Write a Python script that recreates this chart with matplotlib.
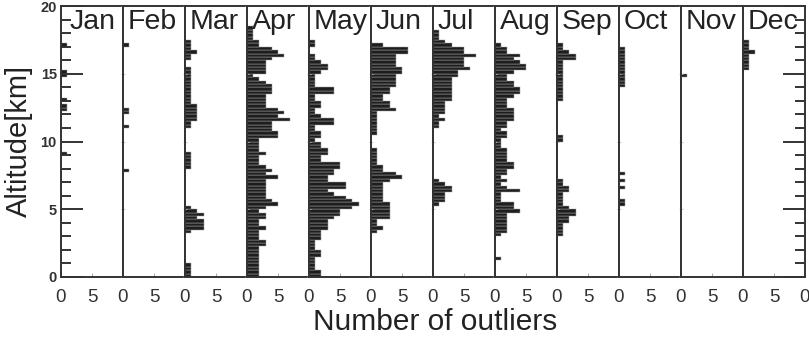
import matplotlib
matplotlib.use("Agg")
import matplotlib.pyplot as plt
import numpy as np

plt.rcParams['font.family'] = ['Liberation Sans', 'DejaVu Sans']

# altitude bins of 0.25 km, from 0 km upward (74 bins -> 0 .. 18.5 km)
bin_width = 0.25
months = ["Jan", "Feb", "Mar", "Apr", "May", "Jun",
          "Jul", "Aug", "Sep", "Oct", "Nov", "Dec"]

jan = [0, 0, 0, 0, 0, 0, 0, 0, 0, 0, 0, 0, 0, 0, 0, 0, 0, 0, 0, 0,
       0, 0, 0, 0, 0, 0, 0, 0, 0, 0, 0, 0, 0, 0, 0, 0, 1, 0, 0, 0,
       0, 0, 0, 0, 0, 0, 0, 0, 0, 1, 1, 0, 1, 0, 0, 0, 0, 0, 0, 1,
       1, 0, 0, 0, 0, 0, 0, 0, 1, 0, 0, 0, 0, 0]
feb = [0, 0, 0, 0, 0, 0, 0, 0, 0, 0, 0, 0, 0, 0, 0, 0, 0, 0, 0, 0,
       0, 0, 0, 0, 0, 0, 0, 0, 0, 0, 0, 1, 0, 0, 0, 0, 0, 0, 0, 0,
       0, 0, 0, 0, 1, 0, 0, 0, 1, 1, 0, 0, 0, 0, 0, 0, 0, 0, 0, 0,
       0, 0, 0, 0, 0, 0, 0, 0, 1, 0, 0, 0, 0, 0]
mar = [1, 1, 1, 1, 0, 0, 0, 0, 0, 0, 0, 0, 0, 1, 3, 3, 3, 2, 3, 2,
       1, 0, 0, 0, 0, 0, 0, 0, 0, 0, 0, 0, 1, 1, 1, 1, 1, 0, 0, 0,
       0, 0, 0, 0, 1, 1, 2, 2, 2, 2, 2, 1, 1, 1, 1, 1, 1, 1, 1, 1,
       1, 1, 0, 0, 1, 1, 2, 1, 1, 1, 0, 0, 0, 0]
apr = [2, 2, 2, 2, 2, 2, 2, 2, 2, 3, 3, 2, 2, 2, 3, 2, 2, 3, 3, 2,
       3, 5, 4, 3, 3, 3, 3, 3, 3, 5, 3, 4, 3, 2, 2, 2, 3, 2, 2, 2,
       2, 5, 5, 4, 4, 4, 7, 5, 6, 5, 3, 3, 3, 3, 4, 4, 4, 3, 2, 1,
       3, 3, 3, 3, 4, 6, 5, 4, 2, 2, 1, 1, 1, 1]
may = [2, 2, 1, 1, 1, 1, 2, 2, 1, 1, 1, 2, 2, 2, 3, 3, 3, 4, 5, 5,
       7, 8, 7, 6, 4, 3, 6, 6, 3, 3, 4, 4, 5, 5, 2, 2, 3, 3, 2, 2,
       1, 2, 2, 1, 1, 4, 4, 2, 1, 1, 2, 2, 1, 1, 4, 4, 1, 1, 1, 1,
       2, 3, 3, 2, 1, 1, 0, 0, 1, 1, 0, 0, 0, 0]
jun = [0, 0, 0, 0, 0, 0, 0, 0, 0, 0, 0, 0, 0, 1, 2, 1, 1, 3, 3, 3,
       3, 3, 2, 2, 2, 2, 2, 2, 3, 5, 4, 2, 2, 1, 1, 1, 1, 1, 0, 0,
       0, 0, 1, 1, 1, 1, 1, 1, 1, 4, 3, 3, 2, 2, 3, 3, 4, 4, 4, 4,
       5, 5, 4, 4, 4, 4, 6, 6, 2, 0, 0, 0, 0, 0]
jul = [0, 0, 0, 0, 0, 0, 0, 0, 0, 0, 0, 0, 0, 0, 0, 0, 0, 0, 0, 0,
       0, 1, 2, 2, 2, 3, 3, 2, 1, 0, 0, 0, 0, 0, 0, 0, 0, 0, 0, 0,
       0, 0, 0, 0, 1, 1, 2, 1, 2, 2, 2, 2, 3, 3, 3, 3, 3, 3, 3, 4,
       4, 6, 5, 5, 5, 7, 5, 5, 3, 2, 1, 1, 1, 0]
aug = [0, 0, 0, 0, 0, 1, 0, 0, 0, 0, 0, 0, 1, 2, 2, 2, 2, 2, 2, 4,
       3, 3, 1, 1, 1, 4, 2, 1, 2, 1, 2, 2, 3, 3, 2, 2, 2, 2, 1, 1,
       1, 2, 2, 1, 2, 2, 3, 3, 3, 3, 2, 2, 2, 3, 4, 4, 3, 3, 2, 2,
       3, 5, 5, 4, 3, 4, 2, 2, 1, 0, 0, 0, 0, 0]
sep = [0, 0, 0, 0, 0, 0, 0, 0, 0, 0, 0, 0, 1, 1, 1, 1, 2, 2, 3, 3,
       2, 1, 1, 1, 1, 2, 2, 1, 1, 0, 0, 0, 0, 0, 0, 0, 0, 0, 0, 0,
       1, 1, 0, 0, 0, 0, 0, 0, 0, 0, 0, 0, 1, 1, 1, 1, 1, 1, 1, 1,
       1, 1, 1, 1, 3, 3, 2, 1, 1, 0, 0, 0, 0, 0]
oct_ = [0, 0, 0, 0, 0, 0, 0, 0, 0, 0, 0, 0, 0, 0, 0, 0, 0, 0, 0, 0,
        0, 1, 1, 0, 0, 0, 1, 0, 1, 0, 1, 0, 0, 0, 0, 0, 0, 0, 0, 0,
        0, 0, 0, 0, 0, 0, 0, 0, 0, 0, 0, 0, 0, 0, 0, 0, 1, 1, 1, 1,
        1, 1, 1, 1, 1, 1, 1, 1, 0, 0, 0, 0, 0, 0]
nov = [0, 0, 0, 0, 0, 0, 0, 0, 0, 0, 0, 0, 0, 0, 0, 0, 0, 0, 0, 0,
       0, 0, 0, 0, 0, 0, 0, 0, 0, 0, 0, 0, 0, 0, 0, 0, 0, 0, 0, 0,
       0, 0, 0, 0, 0, 0, 0, 0, 0, 0, 0, 0, 0, 0, 0, 0, 0, 0, 0, 1,
       0, 0, 0, 0, 0, 0, 0, 0, 0, 0, 0, 0, 0, 0]
dec = [0, 0, 0, 0, 0, 0, 0, 0, 0, 0, 0, 0, 0, 0, 0, 0, 0, 0, 0, 0,
       0, 0, 0, 0, 0, 0, 0, 0, 0, 0, 0, 0, 0, 0, 0, 0, 0, 0, 0, 0,
       0, 0, 0, 0, 0, 0, 0, 0, 0, 0, 0, 0, 0, 0, 0, 0, 0, 0, 0, 0,
       0, 1, 1, 1, 1, 1, 2, 1, 1, 1, 0, 0, 0, 0]

counts = [jan, feb, mar, apr, may, jun, jul, aug, sep, oct_, nov, dec]
alt_bottom = np.arange(len(jan)) * bin_width

dark = "#333333"
fig, axes = plt.subplots(1, 12, figsize=(8.09, 3.39), dpi=100, sharey=True)
fig.subplots_adjust(left=0.0754, right=0.995, bottom=0.183, top=0.982, wspace=0)

for i, ax in enumerate(axes):
    ax.barh(alt_bottom, counts[i], height=bin_width, align="edge",
            color="#1e1e1e", edgecolor="#a0a0a0", linewidth=0.35)
    ax.set_xlim(0, 10)
    ax.set_ylim(0, 20)
    for sp in ax.spines.values():
        sp.set_color(dark)
        sp.set_linewidth(1.4)
    # month label in the top-left corner of each panel
    x_lab = 1.4 if i == 0 else 0.8
    ax.text(x_lab, 19.75, months[i], ha="left", va="top", fontsize=20.5,
            color="#222222")
    if i == 11:
        ax.set_xticks([0, 5, 10])
        ax.set_xticklabels(["0", "5", "0"])
    else:
        ax.set_xticks([0, 5])
        ax.set_xticklabels(["0", "5"])
    ax.tick_params(axis="x", direction="in", length=3, width=0.6,
                   color="#999999", labelsize=13.5, labelcolor=dark, pad=9)
    if i == 0:
        ax.set_yticks([0, 5, 10, 15, 20])
        ax.set_yticks(np.arange(1, 20), minor=True)
        ax.tick_params(axis="y", which="major", direction="in", length=16,
                       width=1.4, color=dark, labelsize=10.5, pad=3)
        ax.tick_params(axis="y", which="minor", direction="in", length=7,
                       width=1.4, color=dark)
    else:
        ax.tick_params(axis="y", which="major", direction="inout", length=3,
                       width=0.6, color="#bbbbbb", labelleft=False)
        ax.tick_params(axis="y", which="minor", length=0)
    if i == 11:
        # right edge of the last panel carries the same ticks as the left axis
        ax.yaxis.set_ticks_position("right")
        ax.tick_params(axis="y", which="major", direction="in", length=16,
                       width=1.4, color=dark, labelright=False)
        ax.tick_params(axis="y", which="minor", direction="in", length=7,
                       width=1.4, color=dark, labelright=False)

axes[0].set_yticks([0, 5, 10, 15, 20])
axes[0].set_yticklabels(["0", "5", "10", "15", "20"])
for lab in axes[0].get_yticklabels():
    lab.set_fontweight("bold")
    lab.set_color(dark)

fig.text(0.024, 0.585, "Altitude[km]", rotation=90, ha="center", va="center",
         fontsize=21, color="#222222")
fig.text(0.538, 0.05, "Number of outliers", ha="center", va="center",
         fontsize=21.5, color="#222222")

fig.savefig("out.png", dpi=100)
